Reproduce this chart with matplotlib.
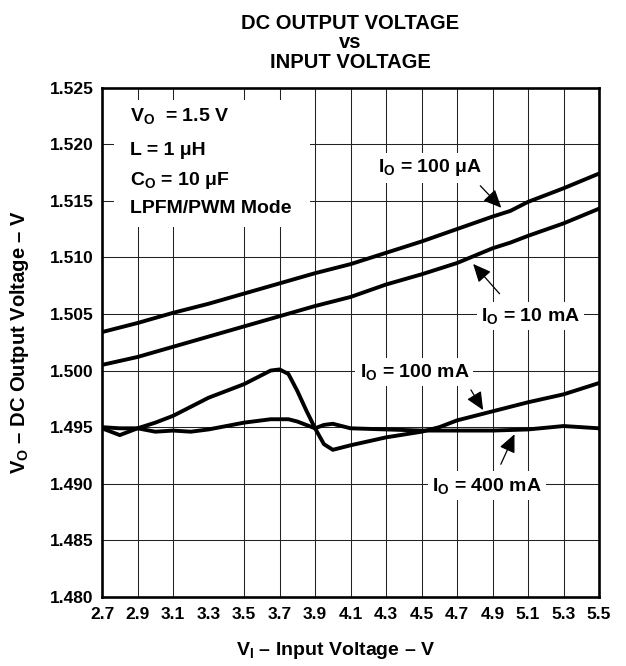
import numpy as np
import matplotlib
matplotlib.use("Agg")
import matplotlib.pyplot as plt
from matplotlib.patches import Rectangle

plt.rcParams['font.family'] = ['Liberation Sans', 'DejaVu Sans']
plt.rcParams['font.weight'] = 'bold'
plt.rcParams['mathtext.fontset'] = 'custom'
plt.rcParams['mathtext.rm'] = 'Liberation Sans:bold'
plt.rcParams['mathtext.bf'] = 'Liberation Sans:bold'
plt.rcParams['mathtext.it'] = 'Liberation Sans:bold'

# input voltage points for the two upper curves
vin_a = [2.7, 2.9, 3.1, 3.3, 3.5, 3.7, 3.9, 4.1, 4.3, 4.5, 4.7, 4.9, 5.0, 5.1, 5.3, 5.5]
io_100ua = [1.5034, 1.5042, 1.5051, 1.5059, 1.5068, 1.5077, 1.5086, 1.5094, 1.5104,
            1.5114, 1.5125, 1.5136, 1.5141, 1.5149, 1.5161, 1.5174]
io_10ma = [1.5005, 1.5012, 1.5021, 1.5030, 1.5039, 1.5048, 1.5057, 1.5065, 1.5076,
           1.5085, 1.5095, 1.5108, 1.5113, 1.5119, 1.5130, 1.5143]

# input voltage points for the two lower curves
vin_b = [2.7, 2.8, 2.9, 3.0, 3.1, 3.2, 3.3, 3.4, 3.5, 3.6, 3.65, 3.7, 3.75, 3.8, 3.85,
         3.9, 3.95, 4.0, 4.1, 4.3, 4.5, 4.6, 4.7, 4.9, 5.1, 5.3, 5.5]
io_100ma = [1.4949, 1.4943, 1.4949, 1.4954, 1.4960, 1.4968, 1.4976, 1.4982, 1.4988,
            1.4996, 1.5000, 1.5001, 1.4997, 1.4982, 1.4965, 1.4949, 1.4935, 1.4930,
            1.4934, 1.4941, 1.4946, 1.4950, 1.4956, 1.4964, 1.4972, 1.4979, 1.4989]
io_400ma = [1.4950, 1.4949, 1.4949, 1.4946, 1.4947, 1.4946, 1.4948, 1.4951, 1.4954,
            1.4956, 1.4957, 1.4957, 1.4957, 1.4955, 1.4952, 1.4949, 1.4952, 1.4953,
            1.4949, 1.4948, 1.4947, 1.4947, 1.4947, 1.4947, 1.4948, 1.4951, 1.4949]

xticks = [2.7, 2.9, 3.1, 3.3, 3.5, 3.7, 3.9, 4.1, 4.3, 4.5, 4.7, 4.9, 5.1, 5.3, 5.5]
yticks = [1.480, 1.485, 1.490, 1.495, 1.500, 1.505, 1.510, 1.515, 1.520, 1.525]

fig = plt.figure(figsize=(6.26, 6.66), dpi=100)
ax = fig.add_axes([0.163, 0.1036, 0.794, 0.765])

ax.set_xlim(2.7, 5.5)
ax.set_ylim(1.480, 1.525)
ax.set_xticks(xticks)
ax.set_xticklabels([f"{v:.1f}" for v in xticks])
ax.set_yticks(yticks)
ax.set_yticklabels([f"{v:.3f}" for v in yticks])
ax.tick_params(length=0, labelsize=12.5)
ax.tick_params(axis='x', pad=7)
ax.tick_params(axis='y', pad=6)
for lab in ax.get_xticklabels() + ax.get_yticklabels():
    lab.set_fontweight('bold')

# grid (the 3.3 V line is absent in the original)
for x in xticks[1:-1]:
    if x != 3.3:
        ax.axvline(x, color='#222222', lw=0.75, zorder=1)
for y in yticks[1:-1]:
    ax.axhline(y, color='#222222', lw=0.75, zorder=1)

for s in ax.spines.values():
    s.set_linewidth(1.9)
    s.set_zorder(5)

kw = dict(color='black', lw=2.8, solid_joinstyle='round', solid_capstyle='round', zorder=3)
ax.plot(vin_a, io_100ua, **kw)
ax.plot(vin_a, io_10ma, **kw)
ax.plot(vin_b, io_100ma, **kw)
ax.plot(vin_b, io_400ma, **kw)

# conditions block
ax.add_patch(Rectangle((2.77, 1.5127), 1.10, 0.0112, facecolor='white',
                       edgecolor='none', zorder=2))
tk = dict(fontsize=14, fontweight='bold', va='baseline', ha='left', zorder=4)
ax.text(2.855, 1.5220, r"V$_\mathrm{O}$  = 1.5 V", **tk)
ax.text(2.855, 1.5190, "L = 1 μH", **tk)
ax.text(2.855, 1.5164, r"C$_\mathrm{O}$ = 10 μF", **tk)
ax.text(2.855, 1.5139, "LPFM/PWM Mode", **tk)

box = dict(facecolor='white', edgecolor='none', pad=3)
lk = dict(fontsize=14, fontweight='bold', va='baseline', ha='center', zorder=4, bbox=box)
arr = dict(arrowstyle='-|>,head_length=0.55,head_width=0.25', color='black', lw=0.9,
           mutation_scale=20)

ax.text(4.55, 1.5175, r"I$_\mathrm{O}$ = 100 μA", **lk)
ax.annotate("", xy=(4.96, 1.5142), xytext=(4.82, 1.5165), arrowprops=arr, zorder=4)

ax.text(5.115, 1.5044, r"I$_\mathrm{O}$ = 10 mA", **lk)
ax.annotate("", xy=(4.78, 1.5096), xytext=(4.95, 1.5066), arrowprops=arr, zorder=4)

ax.text(4.46, 1.4994, r"I$_\mathrm{O}$ = 100 mA", **lk)
ax.annotate("", xy=(4.855, 1.4963), xytext=(4.77, 1.4985), arrowprops=arr, zorder=4)

ax.text(4.87, 1.4894, r"I$_\mathrm{O}$ = 400 mA", **lk)
ax.annotate("", xy=(5.03, 1.4946), xytext=(4.94, 1.4915), arrowprops=arr, zorder=4)

ax.set_title("DC OUTPUT VOLTAGE\nvs\nINPUT VOLTAGE", fontsize=14.5,
             fontweight='bold', linespacing=1.05, pad=14)
ax.set_xlabel(r"V$_\mathrm{I}$ – Input Voltage – V", fontsize=14, fontweight='bold')
ax.xaxis.set_label_coords(0.47, -0.085)
ax.set_ylabel(r"V$_\mathrm{O}$ – DC Output Voltage – V", fontsize=14.5, fontweight='bold')
ax.yaxis.set_label_coords(-0.143, 0.50)

fig.savefig("out.png", dpi=100)
